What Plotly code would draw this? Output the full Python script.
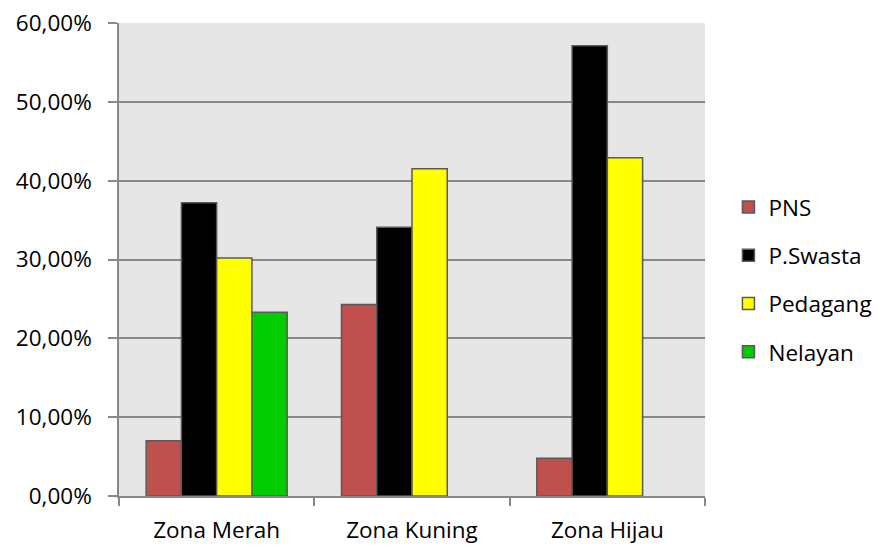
import plotly.graph_objects as go

categories = ["Zona Merah", "Zona Kuning", "Zona Hijau"]
series_names = ["PNS", "P.Swasta", "Pedagang", "Nelayan"]
pns = [7.0, 24.3, 4.8]
swasta = [37.2, 34.1, 57.1]
pedagang = [30.2, 41.5, 42.9]
nelayan = [23.3, None, None]
tick_vals = [0, 10, 20, 30, 40, 50, 60]
tick_text = ["0,00%", "10,00%", "20,00%", "30,00%", "40,00%", "50,00%", "60,00%"]

colors = ["#C0504D", "#000000", "#FFFF00", "#00CC00"]
values = [pns, swasta, pedagang, nelayan]

FONT = "Open Sans"
FS = 22.5
fig = go.Figure()
for name, vals, col in zip(series_names, values, colors):
    fig.add_trace(go.Bar(
        x=categories, y=vals, name=name, legendgroup=name,
        marker=dict(color=col, line=dict(color="#595959", width=1.5)),
    ))

fig.update_layout(
    width=879, height=545,
    margin=dict(l=119, r=174, t=23, b=49, autoexpand=False),
    paper_bgcolor="white",
    plot_bgcolor="#E6E6E6",
    barmode="group",
    bargap=0.278,
    bargroupgap=0,
    font=dict(family=FONT, size=FS, color="#000000"),
    showlegend=True,
    legend=dict(
        x=1.040, xanchor="left", xref="paper",
        y=0.458, yanchor="middle", yref="paper",
        traceorder="grouped", tracegroupgap=16,
        font=dict(family=FONT, size=FS, color="#000000"),
        bgcolor="rgba(0,0,0,0)",
    ),
    xaxis=dict(
        showline=True, linecolor="#888888", linewidth=1.5,
        ticks="outside", tickson="boundaries", ticklen=8, tickcolor="#888888", tickwidth=1.5,
        showgrid=False, mirror=False,
        tickfont=dict(family=FONT, size=FS, color="#000000"),
        ticklabelstandoff=13,
    ),
    yaxis=dict(
        range=[0, 60], tickvals=tick_vals, ticktext=tick_text,
        showline=True, linecolor="#888888", linewidth=1.5,
        ticks="outside", ticklen=9, tickcolor="#888888", tickwidth=1.5,
        showgrid=True, gridcolor="#888888", gridwidth=1.5,
        zeroline=False,
        tickfont=dict(family=FONT, size=FS, color="#000000"),
        ticklabelstandoff=12,
    ),
)

fig.write_html("out.html")
